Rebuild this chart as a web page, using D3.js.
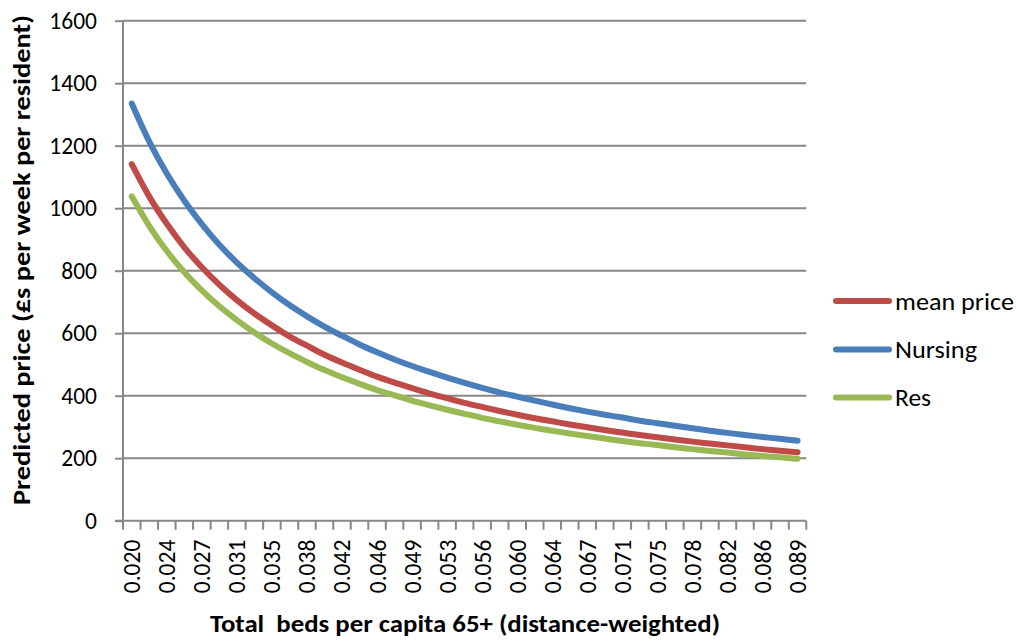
<!DOCTYPE html>
<html><head><meta charset="utf-8">
<script src="https://cdn.jsdelivr.net/npm/d3@7"></script>
<style>
html,body{margin:0;padding:0;background:#fff;}
svg{display:block;font-family:Carlito,Lato,"Open Sans",sans-serif;}
</style></head>
<body><svg id="chart" width="1016" height="640"></svg>
<script>
// category labels (one per category; every second one is shown)
const categories = ["0.020","0.022","0.024","0.026","0.027","0.029","0.031","0.033","0.035","0.037","0.038","0.040","0.042","0.044","0.046","0.047","0.049","0.051","0.053","0.055","0.056","0.058","0.060","0.062","0.064","0.066","0.067","0.069","0.071","0.073","0.075","0.076","0.078","0.080","0.082","0.084","0.086","0.087","0.089"];
const meanPrice = [1141,1037,950,875,811,755,706,663,625,590,560,531,506,483,461,442,424,407,392,377,364,351,339,328,318,308,299,290,282,274,267,260,253,247,241,235,229,224,219];
const nursing   = [1335,1213,1111,1024,949,883,826,776,731,690,654,621,592,564,539,516,495,476,458,441,425,410,397,384,372,360,349,339,330,320,312,304,296,288,281,274,268,262,256];
const res       = [1038,943,863,795,737,686,642,602,567,536,508,482,459,438,418,401,384,369,355,342,329,318,307,297,288,279,271,263,255,248,242,235,229,223,218,212,207,203,198];
const yTicks = [0,200,400,600,800,1000,1200,1400,1600];
const seriesNames = ["mean price","Nursing","Res"];
const seriesColors = ["#BE4B48","#4A7EBB","#98B954"];
const seriesData = [meanPrice, nursing, res];

const svg = d3.select("#chart");
const L = 123, R = 806.3, T = 20.7, B = 520.7;
const axisColor = "#878787";
const tickFont = 23.5;

const x = d3.scaleBand().domain(categories).range([L, R]).padding(0);
const y = d3.scaleLinear().domain([0, 1600]).range([B, T]);

// gridlines
svg.append("g").selectAll("line").data(yTicks.filter(d => d > 0)).join("line")
  .attr("x1", L).attr("x2", R).attr("y1", d => y(d)).attr("y2", d => y(d))
  .attr("stroke", axisColor).attr("stroke-width", 2);

// y axis
const yAxis = svg.append("g").attr("transform", `translate(${L},0)`)
  .call(d3.axisLeft(y).tickValues(yTicks).tickSize(8).tickPadding(18).tickFormat(d3.format("d")));
yAxis.select(".domain").attr("stroke", axisColor).attr("stroke-width", 2).attr("d", `M0,${T}V${B}`);
yAxis.selectAll(".tick line").attr("stroke", axisColor).attr("stroke-width", 2);
yAxis.selectAll(".tick text").attr("font-size", tickFont).attr("fill", "#000").attr("font-family", "Carlito,Lato,sans-serif");

// x axis
const xg = svg.append("g").attr("transform", `translate(0,${B})`);
xg.append("line").attr("x1", L - 8).attr("x2", R).attr("y1", 0).attr("y2", 0)
  .attr("stroke", axisColor).attr("stroke-width", 2);
const bounds = categories.map(c => x(c)).concat([x(categories[categories.length - 1]) + x.bandwidth()]);
xg.selectAll("line.tk").data(bounds).join("line").attr("class", "tk")
  .attr("x1", d => d).attr("x2", d => d).attr("y1", 0).attr("y2", 9)
  .attr("stroke", axisColor).attr("stroke-width", 2);
xg.selectAll("text").data(categories.filter((c, i) => i % 2 === 0)).join("text")
  .attr("transform", d => `translate(${x(d) + x.bandwidth() / 2},19) rotate(-90)`)
  .attr("text-anchor", "end").attr("dy", "0.36em")
  .attr("font-size", tickFont).attr("fill", "#000")
  .text(d => d);

// series
const line = d3.line().x((d, i) => x(categories[i]) + x.bandwidth() / 2).y(d => y(d)).curve(d3.curveMonotoneX);
seriesData.forEach((s, k) => {
  svg.append("path").datum(s).attr("d", line).attr("fill", "none")
    .attr("stroke", seriesColors[k]).attr("stroke-width", 6)
    .attr("stroke-linecap", "round").attr("stroke-linejoin", "round");
});

// axis titles
svg.append("text").attr("transform", `translate(30,260) rotate(-90)`)
  .attr("text-anchor", "middle").attr("font-weight", "bold").attr("font-size", 24)
  .attr("textLength", 490).attr("lengthAdjust", "spacingAndGlyphs")
  .text("Predicted price (£s per week per resident)");
svg.append("text").attr("x", 465).attr("y", 632)
  .attr("text-anchor", "middle").attr("font-weight", "bold").attr("font-size", 24)
  .attr("textLength", 510).attr("lengthAdjust", "spacingAndGlyphs")
  .style("white-space", "pre")
  .text("Total  beds per capita 65+ (distance-weighted)");

// legend
const legY = [301, 349.5, 397.5];
const legLen = [119, 82, 36];
const lg = svg.append("g");
seriesNames.forEach((n, k) => {
  lg.append("line").attr("x1", 836).attr("x2", 889).attr("y1", legY[k]).attr("y2", legY[k])
    .attr("stroke", seriesColors[k]).attr("stroke-width", 6).attr("stroke-linecap", "round");
  lg.append("text").attr("x", 895).attr("y", legY[k]).attr("dy", "0.36em")
    .attr("font-size", 24).attr("textLength", legLen[k]).attr("lengthAdjust", "spacingAndGlyphs")
    .text(n);
});
</script></body></html>
